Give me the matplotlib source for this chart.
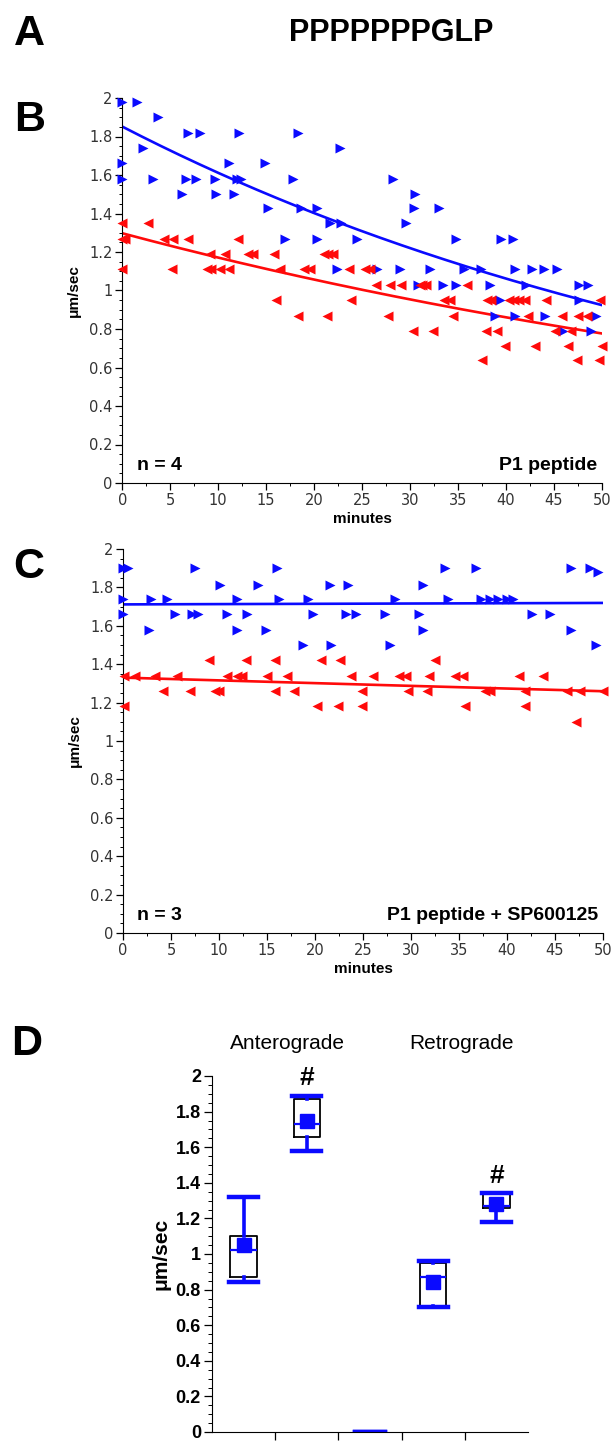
import numpy as np
import matplotlib
matplotlib.use("Agg")
import matplotlib.pyplot as plt
from matplotlib.ticker import MultipleLocator, FuncFormatter

plt.rcParams['font.family'] = ['Liberation Sans', 'DejaVu Sans']

# ---- panel B : P1 peptide (speed vs time) ----
b_ante_x = [0, 1.5, 3.75, 6.9, 8.1, 12.2, 18.3, 2.2, 22.7, 0, 11.1, 14.9,
            0, 3.2, 6.6, 7.7, 9.7, 12.0, 12.4, 17.8, 28.2, 6.2, 9.8, 11.7, 30.5,
            15.2, 18.6, 20.3, 30.4, 33.0, 21.7, 22.8, 29.6,
            17.0, 20.3, 24.5, 34.8, 39.5, 40.8,
            22.4, 26.6, 29.0, 32.1, 35.6, 37.4, 41.0, 42.7, 44.0, 45.3,
            30.8, 33.4, 34.8, 38.4, 42.1, 47.6, 48.6,
            39.4, 47.6, 38.9, 41.0, 44.1, 49.4, 46.0, 48.9]
b_ante_y = [1.98, 1.98, 1.90, 1.82, 1.82, 1.82, 1.82, 1.74, 1.74, 1.66, 1.66, 1.66,
            1.58, 1.58, 1.58, 1.58, 1.58, 1.58, 1.58, 1.58, 1.58, 1.50, 1.50, 1.50, 1.50,
            1.43, 1.43, 1.43, 1.43, 1.43, 1.35, 1.35, 1.35,
            1.27, 1.27, 1.27, 1.27, 1.27, 1.27,
            1.11, 1.11, 1.11, 1.11, 1.11, 1.11, 1.11, 1.11, 1.11, 1.11,
            1.03, 1.03, 1.03, 1.03, 1.03, 1.03, 1.03,
            0.95, 0.95, 0.87, 0.87, 0.87, 0.87, 0.79, 0.79]
b_retro_x = [0, 2.7, 0, 0.3, 4.3, 5.3, 6.9, 12.1,
             9.1, 10.7, 13.1, 13.6, 15.8, 21.0, 21.5, 22.0,
             0, 5.2, 8.8, 9.2, 10.2, 11.1, 16.4, 19.0, 19.6, 23.6, 25.3, 25.8,
             26.5, 27.9, 29.1, 31.0, 31.3, 31.7, 35.9,
             16.0, 23.9, 33.6, 34.2, 38.0, 38.5, 40.3, 40.9, 41.4, 42.0, 44.2, 49.8,
             18.3, 21.4, 27.7, 34.5, 42.3, 45.9, 47.5, 48.5,
             30.3, 32.4, 37.9, 39.1, 45.1, 46.8,
             39.9, 43.0, 46.5, 50.0, 37.5, 47.4, 49.7]
b_retro_y = [1.35, 1.35, 1.27, 1.27, 1.27, 1.27, 1.27, 1.27,
             1.19, 1.19, 1.19, 1.19, 1.19, 1.19, 1.19, 1.19,
             1.11, 1.11, 1.11, 1.11, 1.11, 1.11, 1.11, 1.11, 1.11, 1.11, 1.11, 1.11,
             1.03, 1.03, 1.03, 1.03, 1.03, 1.03, 1.03,
             0.95, 0.95, 0.95, 0.95, 0.95, 0.95, 0.95, 0.95, 0.95, 0.95, 0.95, 0.95,
             0.87, 0.87, 0.87, 0.87, 0.87, 0.87, 0.87, 0.87,
             0.79, 0.79, 0.79, 0.79, 0.79, 0.79,
             0.71, 0.71, 0.71, 0.71, 0.64, 0.64, 0.64]

# ---- panel C : P1 peptide + SP600125 ----
c_ante_x = [0.0, 0.5, 7.5, 16.0, 33.5, 36.8, 46.7, 48.6, 49.5,
            10.1, 14.1, 21.6, 23.4, 31.3,
            0.0, 2.9, 4.6, 11.9, 16.3, 19.3, 28.3, 33.9, 37.3, 38.2, 39.1, 40.0, 40.6,
            0.0, 5.4, 7.2, 7.8, 10.8, 12.9, 19.8, 23.2, 24.3, 27.3, 30.8, 42.6, 44.5,
            2.7, 11.9, 14.9, 31.2, 46.7,
            18.8, 21.7, 27.8, 49.3]
c_ante_y = [1.90, 1.90, 1.90, 1.90, 1.90, 1.90, 1.90, 1.90, 1.88,
            1.81, 1.81, 1.81, 1.81, 1.81,
            1.74, 1.74, 1.74, 1.74, 1.74, 1.74, 1.74, 1.74, 1.74, 1.74, 1.74, 1.74, 1.74,
            1.66, 1.66, 1.66, 1.66, 1.66, 1.66, 1.66, 1.66, 1.66, 1.66, 1.66, 1.66, 1.66,
            1.58, 1.58, 1.58, 1.58, 1.58,
            1.50, 1.50, 1.50, 1.50]
c_retro_x = [9.0, 12.8, 15.8, 20.6, 22.6, 32.5,
             0.1, 1.3, 3.3, 5.6, 10.8, 11.9, 12.4, 15.0, 17.1, 23.7, 26.0, 28.8, 29.5,
             31.9, 34.6, 35.4, 41.3, 43.8,
             4.2, 7.0, 9.6, 10.0, 15.8, 17.8, 24.9, 29.7, 31.7, 37.7, 38.2, 41.9, 46.3,
             47.6, 50.0,
             0.1, 20.2, 22.4, 24.9, 35.6, 41.9,
             47.2]
c_retro_y = [1.42, 1.42, 1.42, 1.42, 1.42, 1.42,
             1.34, 1.34, 1.34, 1.34, 1.34, 1.34, 1.34, 1.34, 1.34, 1.34, 1.34, 1.34, 1.34,
             1.34, 1.34, 1.34, 1.34, 1.34,
             1.26, 1.26, 1.26, 1.26, 1.26, 1.26, 1.26, 1.26, 1.26, 1.26, 1.26, 1.26, 1.26,
             1.26, 1.26,
             1.18, 1.18, 1.18, 1.18, 1.18, 1.18,
             1.10]

# ---- panel D : box plot summary (third slot is empty) ----
d_whislo = [0.84, 1.58, 0.0, 0.70, 1.18]
d_q1 = [0.87, 1.66, 0.0, 0.71, 1.26]
d_med = [1.02, 1.73, 0.0, 0.87, 1.27]
d_q3 = [1.10, 1.87, 0.0, 0.95, 1.34]
d_whishi = [1.32, 1.89, 0.0, 0.96, 1.34]
d_mean = [1.05, 1.745, np.nan, 0.84, 1.28]
d_sig = [False, True, False, False, True]
d_groups = ["Anterograde", "Retrograde"]

BLUE = "#0a0aff"
RED = "#ff0a0a"
W, H = 616, 1443

fig = plt.figure(figsize=(W / 100, H / 100), dpi=100)


def px_axes(l, t, r, b):
    return fig.add_axes([l / W, 1 - b / H, (r - l) / W, (b - t) / H])


def ftext(x, y, s, **kw):
    return fig.text(x / W, 1 - y / H, s, **kw)


def exp_fit(x, y):
    # excel-style exponential trendline
    k, c = np.polyfit(np.array(x), np.log(np.array(y)), 1)
    xs = np.linspace(0, 50, 200)
    return xs, np.exp(c) * np.exp(k * xs)


def scatter_panel(ax, ax_x, ax_y, re_x, re_y, n_txt, cond_txt):
    ax.set_xlim(0, 50)
    ax.set_ylim(0, 2)
    for s in ["top", "right"]:
        ax.spines[s].set_visible(False)
    ax.scatter(ax_x, ax_y, marker=">", s=52, color=BLUE, linewidths=0,
               clip_on=False, zorder=3)
    ax.scatter(re_x, re_y, marker="<", s=52, color=RED, linewidths=0,
               clip_on=False, zorder=3)
    xs, ys = exp_fit(ax_x, ax_y)
    ax.plot(xs, ys, color=BLUE, lw=1.9, zorder=2)
    xs, ys = exp_fit(re_x, re_y)
    ax.plot(xs, ys, color=RED, lw=1.9, zorder=2)
    ax.xaxis.set_major_locator(MultipleLocator(5))
    ax.xaxis.set_minor_locator(MultipleLocator(2.5))
    ax.yaxis.set_major_locator(MultipleLocator(0.2))
    ax.yaxis.set_minor_locator(MultipleLocator(0.05))
    ax.yaxis.set_major_formatter(FuncFormatter(lambda v, p: "%g" % round(v, 2)))
    ax.tick_params(which="major", length=5, width=0.9, labelsize=10.5,
                   labelcolor="#333333", pad=2)
    ax.tick_params(which="minor", length=2.5, width=0.7)
    for lab in ax.get_xticklabels() + ax.get_yticklabels():
        lab.set_fontfamily("DejaVu Sans")
    ax.set_xlabel("minutes", fontsize=11, fontweight="bold", labelpad=3)
    ax.set_ylabel("μm/sec", fontsize=11, fontweight="bold", labelpad=6)
    ax.text(0.03, 0.045, n_txt, transform=ax.transAxes, fontsize=14,
            fontweight="bold", va="center", ha="left")
    ax.text(0.99, 0.045, cond_txt, transform=ax.transAxes, fontsize=14,
            fontweight="bold", va="center", ha="right")


axB = px_axes(122.3, 98, 601.7, 483)
scatter_panel(axB, b_ante_x, b_ante_y, b_retro_x, b_retro_y, "n = 4", "P1 peptide")

axC = px_axes(123, 549, 603, 933)
scatter_panel(axC, c_ante_x, c_ante_y, c_retro_x, c_retro_y, "n = 3",
              "P1 peptide + SP600125")

# ---- panel D ----
axD = px_axes(212, 1076, 528, 1432)
stats = []
for i in range(len(d_med)):
    stats.append(dict(whislo=d_whislo[i], q1=d_q1[i], med=d_med[i], q3=d_q3[i],
                      whishi=d_whishi[i], mean=d_mean[i], fliers=[]))
pos = np.arange(len(stats)) + 0.5
axD.bxp(stats, positions=pos, widths=0.42, capwidths=0.46, showmeans=True,
        showfliers=False, manage_ticks=False,
        boxprops=dict(color="black", lw=1.3),
        medianprops=dict(color=BLUE, lw=1.6),
        whiskerprops=dict(color=BLUE, lw=2.6),
        capprops=dict(color=BLUE, lw=3.2),
        meanprops=dict(marker="s", markersize=10, markerfacecolor=BLUE,
                       markeredgecolor=BLUE))
for i in range(len(d_sig)):
    if d_sig[i]:
        axD.text(pos[i], d_whishi[i] + 0.1, "#", ha="center", va="center",
                 fontsize=19, fontweight="bold", clip_on=False)
axD.set_xlim(0, 5)
axD.set_ylim(0, 2)
for s in ["top", "right"]:
    axD.spines[s].set_visible(False)
axD.set_xticks([1, 2, 3, 4])
axD.set_xticklabels([])
axD.yaxis.set_major_locator(MultipleLocator(0.2))
axD.yaxis.set_minor_locator(MultipleLocator(0.05))
axD.yaxis.set_major_formatter(FuncFormatter(lambda v, p: "%g" % round(v, 2)))
axD.tick_params(which="major", length=6, width=0.9, labelsize=13, pad=2)
axD.tick_params(which="minor", length=3, width=0.7)
for lab in axD.get_yticklabels():
    lab.set_fontweight("bold")
axD.set_ylabel("μm/sec", fontsize=15, fontweight="bold", labelpad=4)
axD.text(1.2, 2.18, d_groups[0], ha="center", va="center", fontsize=15,
         clip_on=False)
axD.text(3.95, 2.18, d_groups[1], ha="center", va="center", fontsize=15,
         clip_on=False)

# ---- panel letters and header ----
ftext(29, 34, "A", fontsize=31, fontweight="bold", ha="center", va="center")
ftext(391, 33, "PPPPPPPGLP", fontsize=22, fontweight="bold", ha="center",
      va="center")
ftext(30, 120, "B", fontsize=31, fontweight="bold", ha="center", va="center")
ftext(29, 567, "C", fontsize=31, fontweight="bold", ha="center", va="center")
ftext(27, 1044, "D", fontsize=31, fontweight="bold", ha="center", va="center")

fig.savefig("out.png", dpi=100)
